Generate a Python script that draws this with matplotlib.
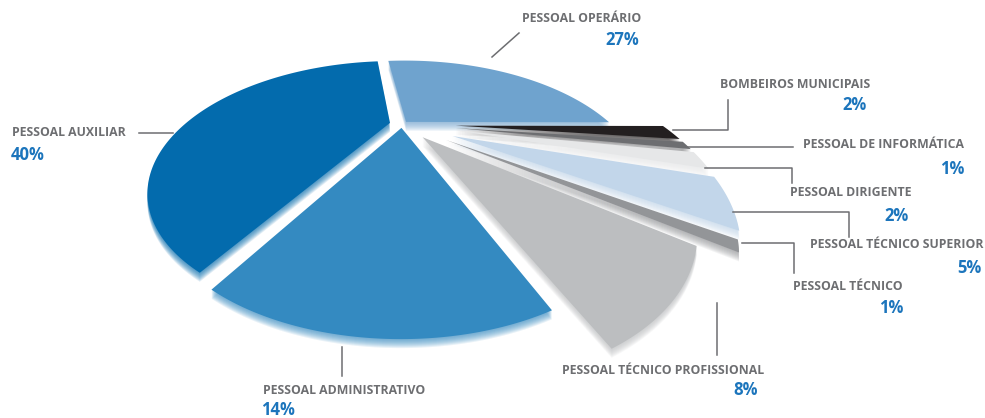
import numpy as np
import matplotlib
matplotlib.use("Agg")
import matplotlib.pyplot as plt
import matplotlib.transforms as mtransforms
from matplotlib.path import Path
from matplotlib.patches import Wedge
from matplotlib.lines import Line2D

# data (clockwise from the top)
categories = ["PESSOAL OPERÁRIO", "BOMBEIROS MUNICIPAIS", "PESSOAL DE INFORMÁTICA",
              "PESSOAL DIRIGENTE", "PESSOAL TÉCNICO SUPERIOR", "PESSOAL TÉCNICO",
              "PESSOAL TÉCNICO PROFISSIONAL", "PESSOAL ADMINISTRATIVO", "PESSOAL AUXILIAR"]
shares = [27, 2, 1, 2, 5, 1, 8, 14, 40]

colors = ["#6FA3CE", "#231F20", "#6D6E71", "#E6E7E8", "#C2D6EA",
          "#939598", "#BCBEC0", "#348AC1", "#036BAD"]
explode = [0.03, 0.26, 0.26, 0.26, 0.26, 0.25, 0.16, 0.04, 0.06]

W, H = 985, 418
cx, cy = 402, 124      # pie centre in pixels
sx, sy = 205, 95       # horizontal / vertical scale
tilt = 0.52            # perspective strength

label_grey = "#6D6E71"
pct_blue = "#1C75BC"


class Perspective(mtransforms.Transform):
    # tilted disc seen in perspective, far side (y>0) shrinks
    input_dims = 2
    output_dims = 2

    def __init__(self, p):
        super().__init__()
        self.p = p

    def transform_non_affine(self, xy):
        xy = np.asarray(xy, dtype=float)
        w = 1 + self.p * xy[:, 1]
        return np.column_stack([xy[:, 0] / w, xy[:, 1] / w])

    def transform_path_non_affine(self, path):
        pts = []
        for seg, code in path.iter_bezier():
            if code == Path.MOVETO:
                pts.append(seg.control_points)
            else:
                pts.append(seg(np.linspace(0, 1, 40)[1:]))
        return Path(self.transform_non_affine(np.vstack(pts)))


fig = plt.figure(figsize=(W / 100, H / 100), dpi=100)
ax = fig.add_axes([0, 0, 1, 1])

wedges, _ = ax.pie(shares, colors=colors, explode=explode, startangle=97,
                   counterclock=False, wedgeprops=dict(linewidth=0))
persp = Perspective(tilt)
for w in wedges:
    w.set_transform(persp + ax.transData)
    w.set_zorder(3)
    # soft 3D rim: faint copies shifted down pixel by pixel
    for k in range(1, 10):
        sh = Wedge(w.center, w.r, w.theta1, w.theta2, color=w.get_facecolor(),
                   alpha=0.11, lw=0, zorder=2,
                   transform=persp + ax.transData + mtransforms.Affine2D().translate(0, -k))
        ax.add_patch(sh)

ax.set_aspect("auto")
ax.set_xlim(-cx / sx, (W - cx) / sx)
ax.set_ylim(-(H - cy) / sy, cy / sy)
ax.axis("off")

# pixel coordinates measured from the top-left corner
pix = mtransforms.Affine2D().scale(1 / W, -1 / H).translate(0, 1) + fig.transFigure

# label layout: (text x, text y, pct x, pct y, align, leader xs, leader ys)
layout = [
    (641, 18, 639, 40, "right", [492, 519], [57, 33]),
    (870, 84, 867, 105, "right", [673, 728, 728], [130, 130, 100]),
    (964, 144, 964, 169, "right", [683, 793], [147, 147]),
    (911, 193, 909, 216, "right", [705, 792, 792], [168, 168, 183]),
    (983, 245, 981, 268, "right", [733, 849, 849], [212, 212, 237]),
    (903, 287, 903, 308, "right", [742, 794, 794], [243, 243, 273]),
    (764, 370, 758, 390, "right", [717, 717], [303, 355]),
    (263, 390, 261, 410, "left", [342, 342], [347, 376]),
    (12, 132, 11, 155, "left", [139, 173], [133, 133]),
]

for name, val, (tx, ty, px_, py_, ha, lx, ly) in zip(categories, shares, layout):
    fig.text(tx, ty, name, transform=pix, ha=ha, va="center", fontsize=8.8,
             fontweight="bold", color=label_grey, family="Open Sans")
    fig.text(px_, py_, f"{val}%", transform=pix, ha=ha, va="center", fontsize=12,
             fontweight="bold", color=pct_blue, family="Open Sans")
    fig.add_artist(Line2D(lx, ly, transform=pix, color=label_grey, lw=1.1))

fig.savefig("out.png", dpi=100)
